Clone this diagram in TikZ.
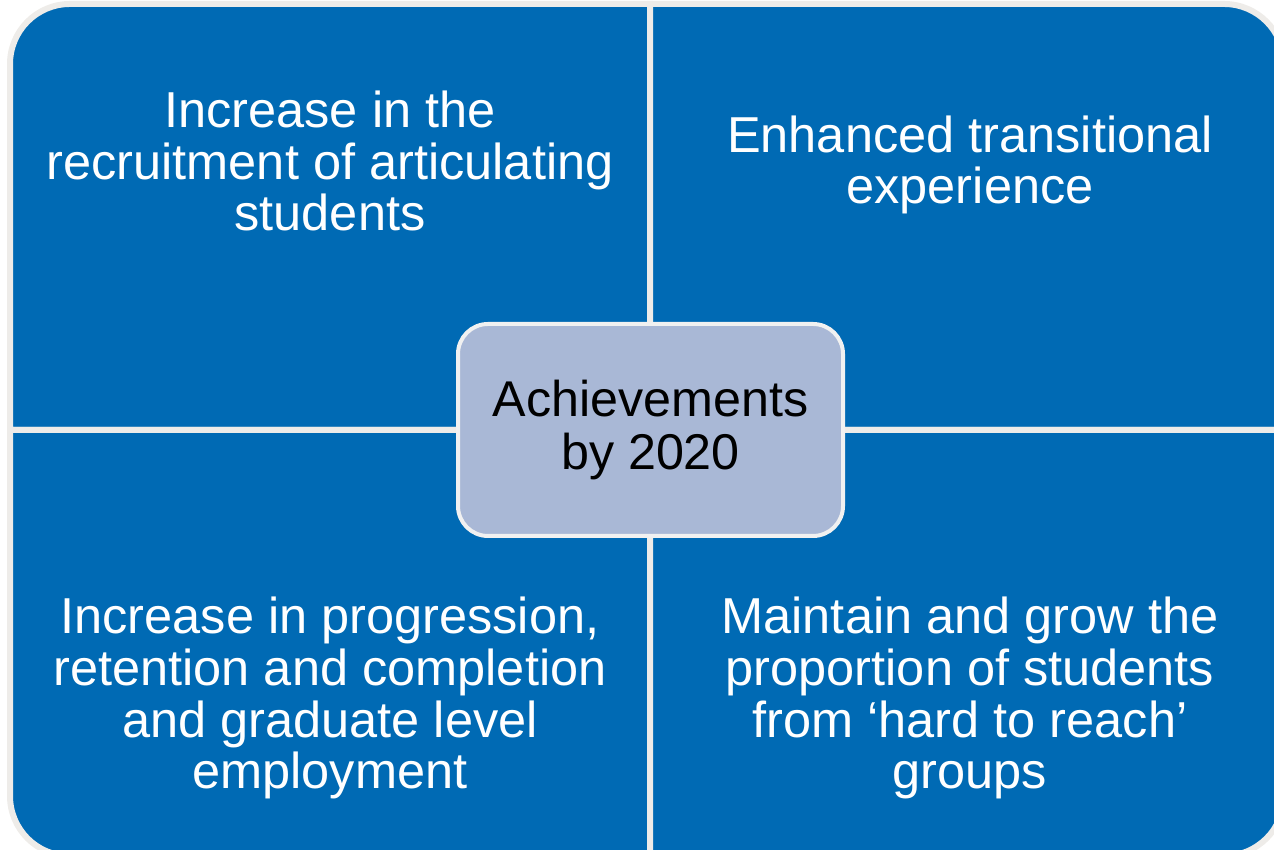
\documentclass[tikz,border=0pt]{standalone}
\usepackage{fontspec}
\setmainfont{Liberation Sans}
\usepackage{tikz}
\usetikzlibrary{positioning}
\definecolor{quadblue}{RGB}{0,106,180}
\definecolor{quadedge}{RGB}{238,236,233}
\definecolor{hubfill}{RGB}{169,184,214}
\definecolor{hubedge}{RGB}{241,241,241}
\tikzset{
    quad/.style={fill=quadblue, draw=quadedge, line width=0.06cm, line join=miter},
    quadtext/.style={text=white, align=center, font=\fontsize{14.37pt}{14.7pt}\selectfont},
    hub/.style={draw=hubedge, fill=hubfill, line width=0.04cm, rounded corners=0.3cm,
        minimum width=3.85cm, minimum height=2.12cm, align=center,
        font=\fontsize{14.3pt}{15.3pt}\selectfont}
}
\begin{document}
\begin{tikzpicture}
    \useasboundingbox (0,0) rectangle (12.74,8.5);
    \clip (0,0) rectangle (12.74,8.5);
    \draw[quad] (6.5,4.2) -- (0.1,4.2) -- (0.1,7.86) arc[start angle=180, end angle=90, radius=0.6] -- (6.5,8.46) -- cycle;
    \draw[quad] (6.5,4.2) -- (6.5,8.46) -- (12.24,8.46) arc[start angle=90, end angle=0, radius=0.6] -- (12.84,4.2) -- cycle;
    \draw[quad] (6.5,4.2) -- (0.1,4.2) -- (0.1,0.54) arc[start angle=180, end angle=270, radius=0.6] -- (6.5,-0.06) -- cycle;
    \draw[quad] (6.5,4.2) -- (12.84,4.2) -- (12.84,0.54) arc[start angle=0, end angle=-90, radius=0.6] -- (6.5,-0.06) -- cycle;

    \node[quadtext] (recruit) at (3.30,6.89) {Increase in the\\recruitment of articulating\\students};
    \node[quadtext] (transition) at (9.70,6.85) {Enhanced transitional\\experience};
    \node[quadtext] (progress) at (3.30,1.517) {Increase in progression,\\retention and completion\\and graduate level\\employment};
    \node[quadtext] (reach) at (9.70,1.517) {Maintain and grow the\\proportion of students\\from `hard to reach'\\groups};

    \node[hub] (goals) at (6.505,4.20) {Achievements\\by 2020};
\end{tikzpicture}
\end{document}
